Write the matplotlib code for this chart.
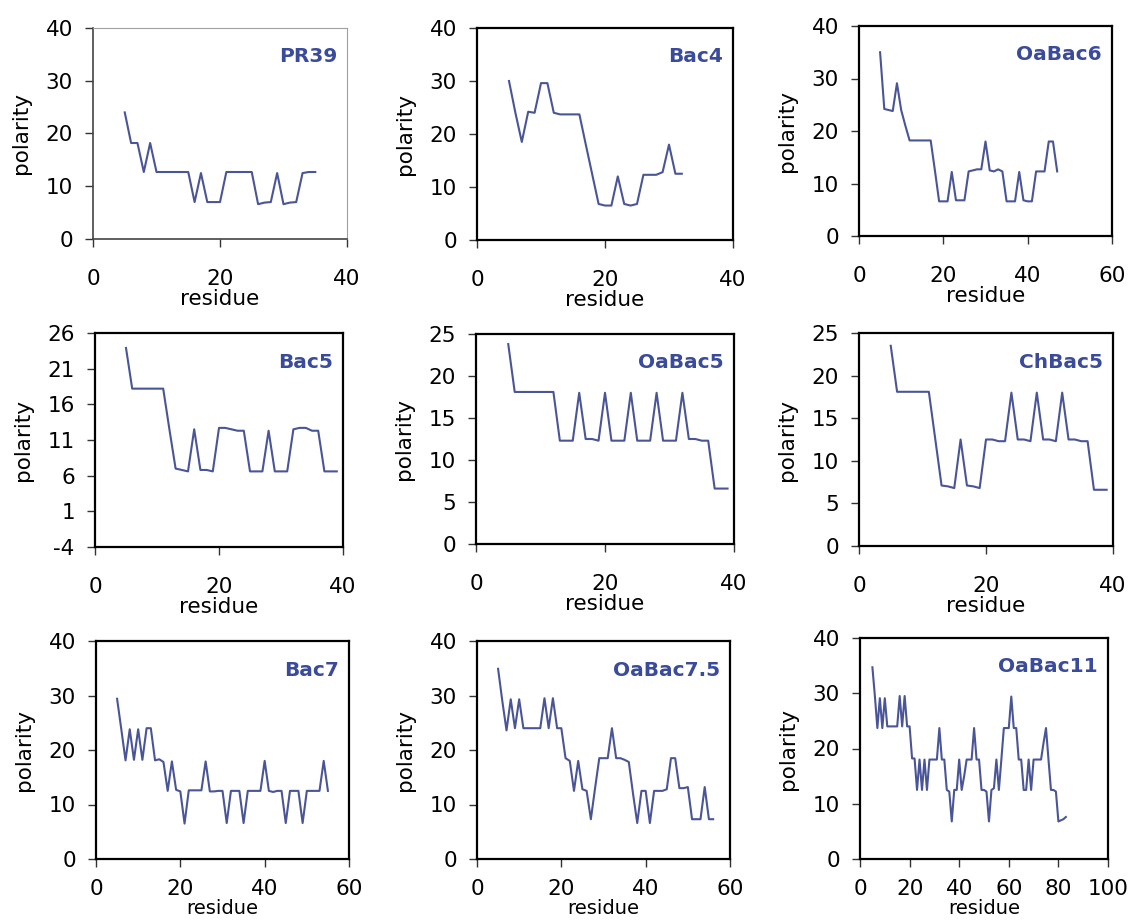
import numpy as np
import matplotlib
matplotlib.use("Agg")
import matplotlib.pyplot as plt
from matplotlib.transforms import ScaledTranslation

plt.rcParams['axes.unicode_minus'] = False

# ---------------- data (polarity per residue, first residue = 5) ----------------
first_residue = 5

pr39 = [24, 18.2, 18.2, 12.7, 18.2, 12.7, 12.7, 12.7, 12.7, 12.7, 12.7, 7.0, 12.5,
        7.0, 7.0, 7.0, 12.7, 12.7, 12.7, 12.7, 12.7, 6.6, 6.9, 7.0, 12.5, 6.6, 6.9,
        7.0, 12.5, 12.7, 12.7]

bac4 = [30, 24, 18.5, 24.2, 24, 29.6, 29.6, 24, 23.7, 23.7, 23.7, 23.7, 18, 12.4,
        6.8, 6.5, 6.5, 12, 6.8, 6.5, 6.8, 12.3, 12.3, 12.3, 12.8, 18, 12.5, 12.5]

oabac6 = [35, 24.2, 24, 23.8, 29.1, 24, 21, 18.2, 18.2, 18.2, 18.2, 18.2, 18.2,
          12.5, 6.6, 6.6, 6.6, 12.2, 6.8, 6.8, 6.8, 12.3, 12.5, 12.7, 12.7, 18,
          12.5, 12.3, 12.7, 12.3, 6.6, 6.6, 6.6, 12.2, 6.8, 6.6, 6.6, 12.3, 12.3,
          12.3, 18, 18, 12.3]

bac5 = [23.9, 18.2, 18.2, 18.2, 18.2, 18.2, 18.2, 12.5, 7.0, 6.8, 6.6, 12.5, 6.8,
        6.8, 6.6, 12.7, 12.7, 12.5, 12.3, 12.3, 6.6, 6.6, 6.6, 12.3, 6.6, 6.6, 6.6,
        12.5, 12.7, 12.7, 12.3, 12.3, 6.6, 6.6, 6.6]

oabac5 = [23.8, 18.1, 18.1, 18.1, 18.1, 18.1, 18.1, 18.1, 12.3, 12.3, 12.3, 18,
          12.5, 12.5, 12.3, 18, 12.3, 12.3, 12.3, 18, 12.3, 12.3, 12.3, 18, 12.3,
          12.3, 12.3, 18, 12.5, 12.5, 12.3, 12.3, 6.6, 6.6, 6.6]

chbac5 = [23.5, 18.1, 18.1, 18.1, 18.1, 18.1, 18.1, 12.6, 7.1, 7.0, 6.8, 12.5, 7.1,
          7.0, 6.8, 12.5, 12.5, 12.3, 12.3, 18, 12.5, 12.5, 12.3, 18, 12.5, 12.5,
          12.3, 18, 12.5, 12.5, 12.3, 12.3, 6.6, 6.6, 6.6]

bac7 = [29.4, 23.8, 18.1, 23.8, 18.2, 23.8, 18.2, 24, 24, 18.1, 18.3, 17.8, 12.5,
        17.9, 12.7, 12.4, 6.5, 12.6, 12.6, 12.6, 12.6, 17.9, 12.4, 12.4, 12.5, 12.5,
        6.6, 12.5, 12.5, 12.5, 6.6, 12.5, 12.5, 12.5, 12.5, 18, 12.5, 12.3, 12.5,
        12.5, 6.6, 12.5, 12.5, 12.5, 6.6, 12.5, 12.5, 12.5, 12.5, 18, 12.5]

oabac7_5 = [34.9, 29, 23.6, 29.3, 24, 29.3, 24, 24, 24, 24, 24, 29.5, 24, 29.5, 24,
            24, 18.5, 18, 12.5, 18, 12.8, 12.5, 7.3, 13, 18.5, 18.5, 18.5, 24, 18.5,
            18.5, 18.2, 17.8, 12, 6.6, 12.5, 12.5, 6.6, 12.5, 12.5, 12.5, 12.8, 18.5,
            18.5, 13, 13, 13.2, 7.3, 7.3, 7.3, 13.2, 7.3, 7.3]

oabac11 = [34.7, 29.5, 23.7, 29.1, 23.7, 29.1, 24, 24, 24, 24, 24, 29.5, 24, 29.5,
           24, 24, 18.2, 18.2, 12.5, 18, 12.5, 18, 12.5, 18, 18, 18, 18, 23.7, 18, 18,
           12.5, 12.2, 6.8, 12.5, 12.5, 18, 12.5, 15, 18, 18, 18, 23.7, 18, 18, 12.5,
           12.5, 12.2, 6.8, 12.5, 12.8, 18, 12.5, 18, 23.7, 23.7, 23.7, 29.4, 23.7,
           23.7, 18, 18, 12.5, 12.5, 18, 12.5, 18, 18, 18, 18, 21, 23.7, 18, 12.5,
           12.5, 12.2, 6.8, 7.0, 7.2, 7.6]

names = ["PR39", "Bac4", "OaBac6", "Bac5", "OaBac5", "ChBac5",
         "Bac7", "OaBac7.5", "OaBac11"]
series = [pr39, bac4, oabac6, bac5, oabac5, chbac5, bac7, oabac7_5, oabac11]
x_ticks = [[0, 20, 40], [0, 20, 40], [0, 20, 40, 60],
           [0, 20, 40], [0, 20, 40], [0, 20, 40],
           [0, 20, 40, 60], [0, 20, 40, 60], [0, 20, 40, 60, 80, 100]]
y_ticks = [[0, 10, 20, 30, 40], [0, 10, 20, 30, 40], [0, 10, 20, 30, 40],
           [-4, 1, 6, 11, 16, 21, 26], [0, 5, 10, 15, 20, 25], [0, 5, 10, 15, 20, 25],
           [0, 10, 20, 30, 40], [0, 10, 20, 30, 40], [0, 10, 20, 30, 40]]

# ---------------- layout (pixel boxes: left, top, right, bottom) ----------------
W, H = 1132, 924
boxes = [(93, 28, 347, 239), (477, 28, 733, 240), (859, 26, 1112, 236),
         (95, 333, 343, 547), (476, 334, 734, 544), (859, 333, 1113, 546),
         (96, 641, 349, 859), (477, 641, 730, 859), (860, 638, 1108, 859)]

LINE = '#4a5597'
TITLE = '#3b4b9b'

fig = plt.figure(figsize=(W / 100, H / 100), dpi=100)
fig.patch.set_facecolor('white')

for i, (name, vals, xt, yt, box) in enumerate(zip(names, series, x_ticks, y_ticks, boxes)):
    l, t, r, b = box
    bottom_row = i >= 6
    ax = fig.add_axes([l / W, 1 - b / H, (r - l) / W, (b - t) / H])
    x = np.arange(first_residue, first_residue + len(vals))
    ax.plot(x, vals, color=LINE, lw=1.5)
    ax.set_xlim(xt[0], xt[-1])
    ax.set_ylim(yt[0], yt[-1])
    ax.set_xticks(xt)
    ax.set_yticks(yt)
    ax.tick_params(direction='out', length=5.5, width=1.0, labelsize=15.5, color='#333333')
    ax.tick_params(axis='x', pad=9 if bottom_row else 16)
    ax.tick_params(axis='y', pad=9)
    ax.set_xlabel('residue', fontsize=14 if bottom_row else 15.5)
    ax.set_ylabel('polarity', fontsize=15.5)
    ax.xaxis.set_label_coords(0.5, (-40 if bottom_row else -50) / (b - t))
    ax.yaxis.set_label_coords(-62 / (r - l), 0.5)
    if i == 0:
        for s in ['left', 'bottom']:
            ax.spines[s].set_color('#444444')
            ax.spines[s].set_linewidth(1.2)
        for s in ['top', 'right']:
            ax.spines[s].set_color('#a0a0a0')
            ax.spines[s].set_linewidth(0.8)
    else:
        for s in ax.spines.values():
            s.set_color('black')
            s.set_linewidth(1.6)
    ax.text(1, 1, name,
            transform=ax.transAxes + ScaledTranslation(-10 / 100, -29 / 100, fig.dpi_scale_trans),
            ha='right', va='center', fontsize=14.5, fontweight='bold', color=TITLE)

fig.savefig('out.png', dpi=100, facecolor='white')
